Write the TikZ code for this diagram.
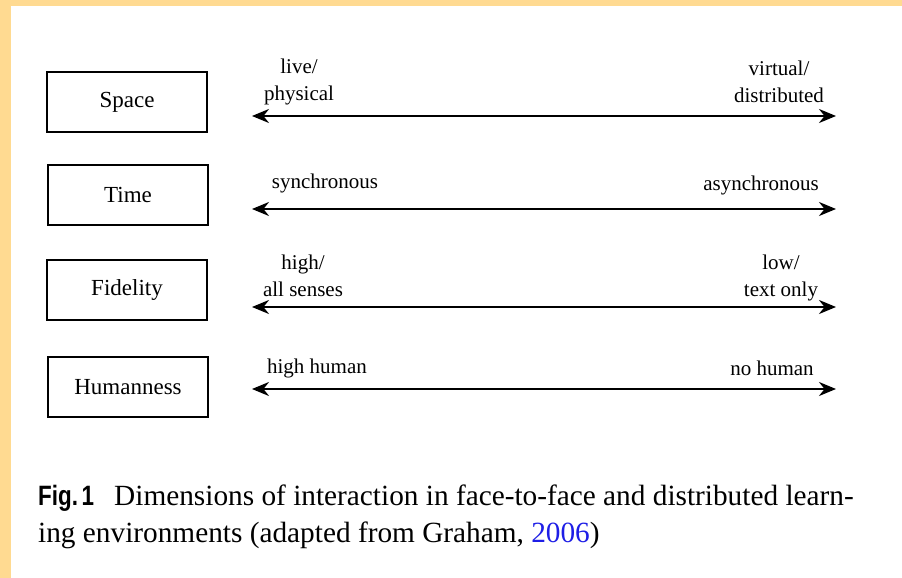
\documentclass[tikz,border=0pt]{standalone}
\usepackage{fontspec}
\setmainfont{Liberation Serif}
\newfontfamily\capsans{Liberation Sans}
\usetikzlibrary{arrows.meta}
\definecolor{frameorange}{RGB}{255,218,145}
\definecolor{yearblue}{RGB}{30,30,230}

\begin{document}
\begin{tikzpicture}[x=1pt, y=-1pt,
    dimbox/.style={draw, line width=2.4pt, minimum width=160pt, minimum height=60pt, inner sep=0pt, font=\fontsize{23}{28}\selectfont},
    endlabel/.style={align=center, inner sep=0pt, font=\fontsize{21}{27}\selectfont},
    dimarrow/.style={line width=2.2pt, {Stealth[length=17pt,width=14pt]}-{Stealth[length=17pt,width=14pt]}}]
                % Frame
                \useasboundingbox (0,0) rectangle (902,578);
                \fill[frameorange] (0,0) rectangle (902,578);
                \fill[white] (11,6) rectangle (902,578);

                % Nodes
                \node[dimbox] (space) at (127,102) {Space};
                \node[dimbox] (time) at (128,195) {Time};
                \node[dimbox] (fidelity) at (127,290) {Fidelity};
                \node[dimbox] (human) at (128,387) {Humanness};

                % Arrow ends
                \coordinate (spaceL) at (252,116);  \coordinate (spaceR) at (836,116);
                \coordinate (timeL) at (252,209);   \coordinate (timeR) at (836,209);
                \coordinate (fidL) at (252,307);    \coordinate (fidR) at (836,307);
                \coordinate (humanL) at (252,389);  \coordinate (humanR) at (836,389);

                % End labels
                \node[endlabel] (live) at (299,82) {live/\\physical};
                \node[endlabel] (virtual) at (779,82) {virtual/\\distributed};
                \node[endlabel] (sync) at (325,183) {synchronous};
                \node[endlabel] (async) at (761,185) {asynchronous};
                \node[endlabel] (high) at (303,276) {high/\\all senses};
                \node[endlabel] (low) at (781,278) {low/\\text only};
                \node[endlabel] (highhuman) at (317,368) {high human};
                \node[endlabel] (nohuman) at (772,368) {no human};

                % Arrows
                \draw[dimarrow] (spaceL) -- (spaceR);
                \draw[dimarrow] (timeL) -- (timeR);
                \draw[dimarrow] (fidL) -- (fidR);
                \draw[dimarrow] (humanL) -- (humanR);

                % Caption
                \node[anchor=base west, align=left, inner sep=0pt, font=\fontsize{29.3}{37}\selectfont] (caption) at (38,542)
                    {\scalebox{0.8}[1]{\fontsize{28}{37}\selectfont\capsans\bfseries Fig.\,1}\hspace{20pt}Dimensions of interaction in face-to-face and distributed learn-\\
                     ing environments (adapted from Graham, \textcolor{yearblue}{2006})};
            \end{tikzpicture}
\end{document}
